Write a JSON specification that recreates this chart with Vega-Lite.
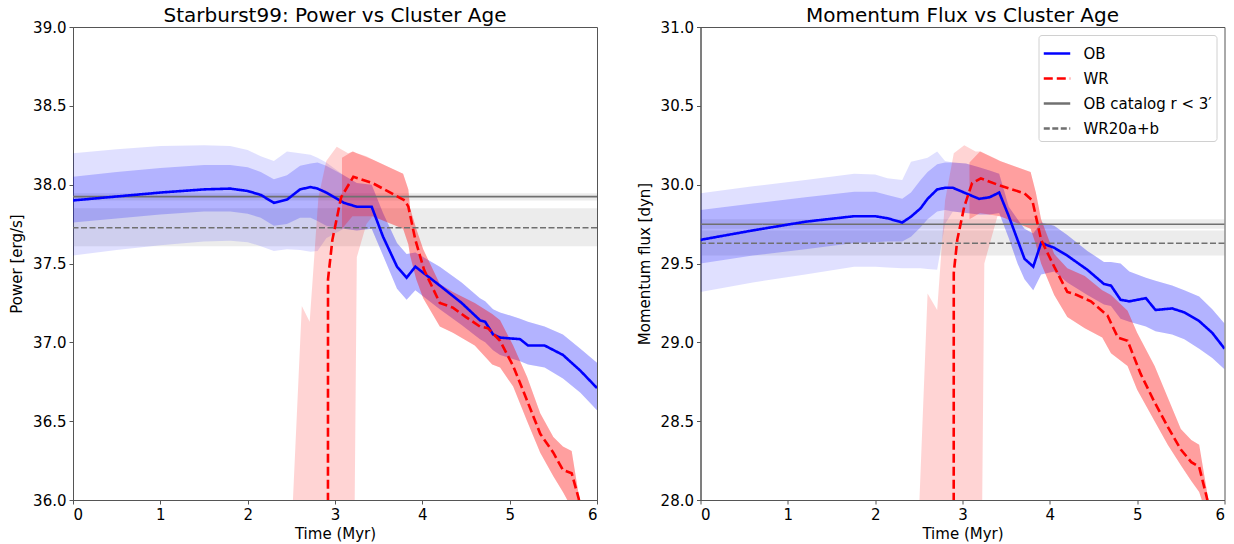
{
  "$schema": "https://vega.github.io/schema/vega-lite/v6.json",
  "padding": {"left": 9, "top": 5, "right": 5, "bottom": 0},
  "spacing": 37.5,
  "config": {
    "font": "DejaVu Sans",
    "view": {"stroke": "#555", "strokeWidth": 1},
    "axis": {"labelFontSize": 15, "titleFontSize": 15, "titleFontWeight": "normal", "labelColor": "black", "titleColor": "black", "tickColor": "#555", "domainColor": "#555", "tickSize": 4, "grid": false, "labelPadding": 3},
    "axisY": {"titlePadding": 8},
    "axisX": {"titlePadding": 4},
    "title": {"fontSize": 20, "fontWeight": "normal", "offset": -5.5, "color": "black"},
    "legend": {"labelFontSize": 15, "symbolType": "stroke", "symbolSize": 700, "symbolStrokeWidth": 2.5, "strokeColor": "#d0d0d0", "fillColor": "rgba(255,255,255,0.85)", "padding": 4, "cornerRadius": 3, "offset": 8, "rowPadding": 2, "labelOffset": 12, "labelColor": "black", "titlePadding": 0}
  },
  "datasets": {
    "p_ob": [
      {"t": 0.0, "v": 37.90, "lo": 37.76, "hi": 38.05, "lo2": 37.55, "hi2": 38.20},
      {"t": 0.5, "v": 37.925, "lo": 37.785, "hi": 38.08, "lo2": 37.585, "hi2": 38.225},
      {"t": 1.0, "v": 37.95, "lo": 37.81, "hi": 38.105, "lo2": 37.615, "hi2": 38.245},
      {"t": 1.5, "v": 37.97, "lo": 37.83, "hi": 38.125, "lo2": 37.64, "hi2": 38.25},
      {"t": 1.8, "v": 37.975, "lo": 37.83, "hi": 38.125, "lo2": 37.645, "hi2": 38.245},
      {"t": 2.0, "v": 37.96, "lo": 37.815, "hi": 38.11, "lo2": 37.635, "hi2": 38.22},
      {"t": 2.15, "v": 37.935, "lo": 37.79, "hi": 38.08, "lo2": 37.61, "hi2": 38.18},
      {"t": 2.3, "v": 37.885, "lo": 37.74, "hi": 38.035, "lo2": 37.58, "hi2": 38.15},
      {"t": 2.45, "v": 37.905, "lo": 37.75, "hi": 38.06, "lo2": 37.59, "hi2": 38.21},
      {"t": 2.6, "v": 37.97, "lo": 37.79, "hi": 38.12, "lo2": 37.585, "hi2": 38.20},
      {"t": 2.72, "v": 37.985, "lo": 37.79, "hi": 38.135, "lo2": 37.575, "hi2": 38.19},
      {"t": 2.8, "v": 37.975, "lo": 37.77, "hi": 38.14, "lo2": 37.58, "hi2": 38.17},
      {"t": 2.9, "v": 37.95, "lo": 37.74, "hi": 38.12, "lo2": 37.66, "hi2": 38.14},
      {"t": 3.1, "v": 37.885, "lo": 37.72, "hi": 38.06, "lo2": 37.72, "hi2": 38.06},
      {"t": 3.25, "v": 37.86, "lo": 37.71, "hi": 38.01, "lo2": 37.71, "hi2": 38.01},
      {"t": 3.42, "v": 37.86, "lo": 37.72, "hi": 38.00, "lo2": 37.72, "hi2": 38.00},
      {"t": 3.55, "v": 37.67, "lo": 37.55, "hi": 37.82, "lo2": 37.55, "hi2": 37.82},
      {"t": 3.71, "v": 37.48, "lo": 37.34, "hi": 37.63, "lo2": 37.34, "hi2": 37.63},
      {"t": 3.82, "v": 37.41, "lo": 37.27, "hi": 37.56, "lo2": 37.27, "hi2": 37.56},
      {"t": 3.92, "v": 37.48, "lo": 37.33, "hi": 37.57, "lo2": 37.33, "hi2": 37.57},
      {"t": 4.2, "v": 37.36, "lo": 37.21, "hi": 37.48, "lo2": 37.21, "hi2": 37.48},
      {"t": 4.45, "v": 37.25, "lo": 37.11, "hi": 37.38, "lo2": 37.11, "hi2": 37.38},
      {"t": 4.66, "v": 37.14, "lo": 37.02, "hi": 37.28, "lo2": 37.02, "hi2": 37.28},
      {"t": 4.72, "v": 37.13, "lo": 37.00, "hi": 37.26, "lo2": 37.00, "hi2": 37.26},
      {"t": 4.81, "v": 37.05, "lo": 36.95, "hi": 37.21, "lo2": 36.95, "hi2": 37.21},
      {"t": 4.89, "v": 37.03, "lo": 36.92, "hi": 37.19, "lo2": 36.92, "hi2": 37.19},
      {"t": 5.12, "v": 37.02, "lo": 36.88, "hi": 37.15, "lo2": 36.88, "hi2": 37.15},
      {"t": 5.21, "v": 36.98, "lo": 36.86, "hi": 37.13, "lo2": 36.86, "hi2": 37.13},
      {"t": 5.40, "v": 36.98, "lo": 36.84, "hi": 37.10, "lo2": 36.84, "hi2": 37.10},
      {"t": 5.61, "v": 36.92, "lo": 36.77, "hi": 37.05, "lo2": 36.77, "hi2": 37.05},
      {"t": 5.81, "v": 36.82, "lo": 36.68, "hi": 36.96, "lo2": 36.68, "hi2": 36.96},
      {"t": 6.0, "v": 36.71, "lo": 36.57, "hi": 36.87, "lo2": 36.57, "hi2": 36.87}
    ],
    "p_wr": [
      {"t": 2.919, "v": 35.0}, {"t": 2.92, "v": 37.40}, {"t": 2.97, "v": 37.65}, {"t": 3.07, "v": 37.92},
      {"t": 3.21, "v": 38.05}, {"t": 3.43, "v": 38.01}, {"t": 3.8, "v": 37.90}, {"t": 3.84, "v": 37.86},
      {"t": 3.92, "v": 37.65}, {"t": 4.02, "v": 37.46}, {"t": 4.2, "v": 37.25}, {"t": 4.35, "v": 37.22},
      {"t": 4.5, "v": 37.16}, {"t": 4.66, "v": 37.10}, {"t": 4.75, "v": 37.09}, {"t": 4.89, "v": 37.01},
      {"t": 5.04, "v": 36.85}, {"t": 5.2, "v": 36.63}, {"t": 5.35, "v": 36.42}, {"t": 5.5, "v": 36.30},
      {"t": 5.61, "v": 36.19}, {"t": 5.71, "v": 36.17}, {"t": 5.79, "v": 36.01}, {"t": 5.9, "v": 35.7}
    ],
    "p_wr1": [
      {"t": 3.08, "lo": 37.72, "hi": 38.17}, {"t": 3.2, "lo": 37.80, "hi": 38.21}, {"t": 3.43, "lo": 37.80, "hi": 38.16},
      {"t": 3.78, "lo": 37.72, "hi": 38.07}, {"t": 3.84, "lo": 37.62, "hi": 37.97}, {"t": 3.86, "lo": 37.55, "hi": 37.85},
      {"t": 3.93, "lo": 37.40, "hi": 37.72}, {"t": 4.01, "lo": 37.28, "hi": 37.59}, {"t": 4.2, "lo": 37.10, "hi": 37.37},
      {"t": 4.35, "lo": 37.06, "hi": 37.32}, {"t": 4.6, "lo": 36.98, "hi": 37.25}, {"t": 4.8, "lo": 36.86, "hi": 37.18},
      {"t": 4.89, "lo": 36.84, "hi": 37.14}, {"t": 5.04, "lo": 36.72, "hi": 36.98}, {"t": 5.2, "lo": 36.50, "hi": 36.78},
      {"t": 5.35, "lo": 36.30, "hi": 36.55}, {"t": 5.5, "lo": 36.15, "hi": 36.40}, {"t": 5.61, "lo": 36.05, "hi": 36.34},
      {"t": 5.71, "lo": 35.95, "hi": 36.31}, {"t": 5.8, "lo": 35.8, "hi": 36.0}, {"t": 5.9, "lo": 35.5, "hi": 35.7}
    ],
    "p_wr2": [
      {"t": 2.51, "lo": 35.0, "hi": 35.9}, {"t": 2.62, "lo": 35.0, "hi": 37.23}, {"t": 2.71, "lo": 35.0, "hi": 37.13},
      {"t": 2.81, "lo": 35.0, "hi": 37.92}, {"t": 2.9, "lo": 35.0, "hi": 38.15}, {"t": 3.02, "lo": 35.0, "hi": 38.24},
      {"t": 3.15, "lo": 35.0, "hi": 38.20}, {"t": 3.21, "lo": 35.0, "hi": 38.21}, {"t": 3.25, "lo": 37.54, "hi": 38.2},
      {"t": 3.36, "lo": 37.75, "hi": 38.18}, {"t": 3.43, "lo": 37.80, "hi": 38.16},
      {"t": 3.78, "lo": 37.72, "hi": 38.07}, {"t": 3.84, "lo": 37.62, "hi": 37.97}, {"t": 3.86, "lo": 37.55, "hi": 37.85},
      {"t": 3.93, "lo": 37.40, "hi": 37.72}, {"t": 4.01, "lo": 37.28, "hi": 37.59}, {"t": 4.2, "lo": 37.10, "hi": 37.37},
      {"t": 4.35, "lo": 37.06, "hi": 37.32}, {"t": 4.6, "lo": 36.98, "hi": 37.25}, {"t": 4.8, "lo": 36.86, "hi": 37.18},
      {"t": 4.89, "lo": 36.84, "hi": 37.14}, {"t": 5.04, "lo": 36.72, "hi": 36.98}, {"t": 5.2, "lo": 36.50, "hi": 36.78},
      {"t": 5.35, "lo": 36.30, "hi": 36.55}, {"t": 5.5, "lo": 36.15, "hi": 36.40}, {"t": 5.61, "lo": 36.05, "hi": 36.34},
      {"t": 5.71, "lo": 35.95, "hi": 36.31}, {"t": 5.8, "lo": 35.8, "hi": 36.0}, {"t": 5.9, "lo": 35.5, "hi": 35.7}
    ],
    "p_ref": [
      {"ref": "OB catalog r < 3′", "v": 37.924, "lo": 37.90, "hi": 37.945},
      {"ref": "WR20a+b", "v": 37.727, "lo": 37.61, "hi": 37.85}
    ],
    "m_ob": [
      {"t": 0.0, "v": 29.65, "lo": 29.50, "hi": 29.84, "lo2": 29.32, "hi2": 29.945},
      {"t": 0.6, "v": 29.71, "lo": 29.55, "hi": 29.88, "lo2": 29.38, "hi2": 29.99},
      {"t": 1.2, "v": 29.765, "lo": 29.59, "hi": 29.92, "lo2": 29.43, "hi2": 30.03},
      {"t": 1.76, "v": 29.80, "lo": 29.63, "hi": 29.955, "lo2": 29.48, "hi2": 30.07},
      {"t": 2.0, "v": 29.80, "lo": 29.635, "hi": 29.955, "lo2": 29.48, "hi2": 30.065},
      {"t": 2.14, "v": 29.787, "lo": 29.64, "hi": 29.935, "lo2": 29.475, "hi2": 30.04},
      {"t": 2.31, "v": 29.76, "lo": 29.64, "hi": 29.91, "lo2": 29.47, "hi2": 30.03},
      {"t": 2.41, "v": 29.797, "lo": 29.67, "hi": 29.95, "lo2": 29.47, "hi2": 30.145},
      {"t": 2.52, "v": 29.85, "lo": 29.73, "hi": 30.03, "lo2": 29.47, "hi2": 30.16},
      {"t": 2.60, "v": 29.91, "lo": 29.78, "hi": 30.08, "lo2": 29.465, "hi2": 30.17},
      {"t": 2.71, "v": 29.97, "lo": 29.83, "hi": 30.13, "lo2": 29.46, "hi2": 30.21},
      {"t": 2.8, "v": 29.98, "lo": 29.84, "hi": 30.14, "lo2": 29.75, "hi2": 30.15},
      {"t": 2.89, "v": 29.98, "lo": 29.83, "hi": 30.14, "lo2": 29.83, "hi2": 30.14},
      {"t": 3.04, "v": 29.945, "lo": 29.82, "hi": 30.135, "lo2": 29.82, "hi2": 30.135},
      {"t": 3.19, "v": 29.91, "lo": 29.81, "hi": 30.11, "lo2": 29.81, "hi2": 30.11},
      {"t": 3.31, "v": 29.92, "lo": 29.81, "hi": 30.09, "lo2": 29.81, "hi2": 30.09},
      {"t": 3.42, "v": 29.95, "lo": 29.82, "hi": 30.07, "lo2": 29.82, "hi2": 30.07},
      {"t": 3.53, "v": 29.80, "lo": 29.66, "hi": 29.86, "lo2": 29.66, "hi2": 29.86},
      {"t": 3.63, "v": 29.65, "lo": 29.50, "hi": 29.78, "lo2": 29.50, "hi2": 29.78},
      {"t": 3.71, "v": 29.53, "lo": 29.40, "hi": 29.72, "lo2": 29.40, "hi2": 29.72},
      {"t": 3.81, "v": 29.48, "lo": 29.33, "hi": 29.69, "lo2": 29.33, "hi2": 29.69},
      {"t": 3.90, "v": 29.63, "lo": 29.43, "hi": 29.76, "lo2": 29.43, "hi2": 29.76},
      {"t": 4.05, "v": 29.60, "lo": 29.45, "hi": 29.74, "lo2": 29.45, "hi2": 29.74},
      {"t": 4.20, "v": 29.55, "lo": 29.38, "hi": 29.68, "lo2": 29.38, "hi2": 29.68},
      {"t": 4.43, "v": 29.46, "lo": 29.30, "hi": 29.58, "lo2": 29.30, "hi2": 29.58},
      {"t": 4.62, "v": 29.37, "lo": 29.24, "hi": 29.51, "lo2": 29.24, "hi2": 29.51},
      {"t": 4.70, "v": 29.36, "lo": 29.23, "hi": 29.51, "lo2": 29.23, "hi2": 29.51},
      {"t": 4.81, "v": 29.27, "lo": 29.15, "hi": 29.50, "lo2": 29.15, "hi2": 29.50},
      {"t": 4.91, "v": 29.26, "lo": 29.13, "hi": 29.45, "lo2": 29.13, "hi2": 29.45},
      {"t": 5.10, "v": 29.28, "lo": 29.10, "hi": 29.41, "lo2": 29.10, "hi2": 29.41},
      {"t": 5.21, "v": 29.205, "lo": 29.07, "hi": 29.39, "lo2": 29.07, "hi2": 29.39},
      {"t": 5.40, "v": 29.215, "lo": 29.05, "hi": 29.36, "lo2": 29.05, "hi2": 29.36},
      {"t": 5.54, "v": 29.19, "lo": 29.02, "hi": 29.33, "lo2": 29.02, "hi2": 29.33},
      {"t": 5.71, "v": 29.135, "lo": 28.96, "hi": 29.29, "lo2": 28.96, "hi2": 29.29},
      {"t": 5.86, "v": 29.06, "lo": 28.90, "hi": 29.21, "lo2": 28.90, "hi2": 29.21},
      {"t": 6.0, "v": 28.96, "lo": 28.83, "hi": 29.12, "lo2": 28.83, "hi2": 29.12}
    ],
    "m_wr": [
      {"t": 2.899, "v": 27.0}, {"t": 2.90, "v": 29.44}, {"t": 2.94, "v": 29.65}, {"t": 3.02, "v": 29.86},
      {"t": 3.11, "v": 30.01}, {"t": 3.21, "v": 30.04}, {"t": 3.40, "v": 30.00}, {"t": 3.71, "v": 29.945},
      {"t": 3.80, "v": 29.90}, {"t": 3.90, "v": 29.65}, {"t": 4.05, "v": 29.48}, {"t": 4.20, "v": 29.32},
      {"t": 4.31, "v": 29.30}, {"t": 4.47, "v": 29.26}, {"t": 4.66, "v": 29.17}, {"t": 4.78, "v": 29.03},
      {"t": 4.89, "v": 29.01}, {"t": 5.04, "v": 28.80}, {"t": 5.19, "v": 28.63}, {"t": 5.35, "v": 28.465},
      {"t": 5.50, "v": 28.32}, {"t": 5.62, "v": 28.24}, {"t": 5.71, "v": 28.21}, {"t": 5.80, "v": 28.01}, {"t": 5.9, "v": 27.7}
    ],
    "m_wr1": [
      {"t": 3.08, "lo": 29.78, "hi": 30.14}, {"t": 3.2, "lo": 29.82, "hi": 30.21}, {"t": 3.43, "lo": 29.80, "hi": 30.15},
      {"t": 3.78, "lo": 29.72, "hi": 30.08}, {"t": 3.84, "lo": 29.62, "hi": 29.95}, {"t": 3.9, "lo": 29.50, "hi": 29.78},
      {"t": 4.05, "lo": 29.30, "hi": 29.56}, {"t": 4.2, "lo": 29.16, "hi": 29.47}, {"t": 4.4, "lo": 29.09, "hi": 29.42},
      {"t": 4.6, "lo": 29.03, "hi": 29.33}, {"t": 4.7, "lo": 28.93, "hi": 29.30}, {"t": 4.89, "lo": 28.85, "hi": 29.20},
      {"t": 5.0, "lo": 28.70, "hi": 29.06}, {"t": 5.2, "lo": 28.50, "hi": 28.85}, {"t": 5.35, "lo": 28.35, "hi": 28.65},
      {"t": 5.5, "lo": 28.22, "hi": 28.45}, {"t": 5.62, "lo": 28.12, "hi": 28.38}, {"t": 5.71, "lo": 28.05, "hi": 28.35},
      {"t": 5.8, "lo": 27.9, "hi": 28.05}, {"t": 5.9, "lo": 27.6, "hi": 27.75}
    ],
    "m_wr2": [
      {"t": 2.50, "lo": 27.0, "hi": 27.9}, {"t": 2.60, "lo": 27.0, "hi": 29.31}, {"t": 2.71, "lo": 27.0, "hi": 29.205},
      {"t": 2.80, "lo": 27.0, "hi": 29.9}, {"t": 2.90, "lo": 27.0, "hi": 30.20}, {"t": 3.02, "lo": 27.0, "hi": 30.25},
      {"t": 3.15, "lo": 27.0, "hi": 30.21}, {"t": 3.21, "lo": 27.0, "hi": 30.21}, {"t": 3.25, "lo": 29.50, "hi": 30.2},
      {"t": 3.40, "lo": 29.80, "hi": 30.16}, {"t": 3.43, "lo": 29.80, "hi": 30.15},
      {"t": 3.78, "lo": 29.72, "hi": 30.08}, {"t": 3.84, "lo": 29.62, "hi": 29.95}, {"t": 3.9, "lo": 29.50, "hi": 29.78},
      {"t": 4.05, "lo": 29.30, "hi": 29.56}, {"t": 4.2, "lo": 29.16, "hi": 29.47}, {"t": 4.4, "lo": 29.09, "hi": 29.42},
      {"t": 4.6, "lo": 29.03, "hi": 29.33}, {"t": 4.7, "lo": 28.93, "hi": 29.30}, {"t": 4.89, "lo": 28.85, "hi": 29.20},
      {"t": 5.0, "lo": 28.70, "hi": 29.06}, {"t": 5.2, "lo": 28.50, "hi": 28.85}, {"t": 5.35, "lo": 28.35, "hi": 28.65},
      {"t": 5.5, "lo": 28.22, "hi": 28.45}, {"t": 5.62, "lo": 28.12, "hi": 28.38}, {"t": 5.71, "lo": 28.05, "hi": 28.35},
      {"t": 5.8, "lo": 27.9, "hi": 28.05}, {"t": 5.9, "lo": 27.6, "hi": 27.75}
    ],
    "m_ref": [
      {"ref": "OB catalog r < 3′", "v": 29.749, "lo": 29.72, "hi": 29.78},
      {"ref": "WR20a+b", "v": 29.628, "lo": 29.55, "hi": 29.71}
    ]
  },
  "resolve": {
    "scale": {"stroke": "independent", "strokeDash": "independent"},
    "legend": {"stroke": "independent", "strokeDash": "independent"}
  },
  "hconcat": [
    {
      "width": 524, "height": 473,
      "title": "Starburst99: Power vs Cluster Age",
      "layer": [
        {"data": {"name": "p_ref"}, "mark": {"type": "rect", "color": "gray", "opacity": 0.15},
         "encoding": {"y": {"field": "lo", "type": "quantitative", "scale": {"domain": [36, 39], "nice": false, "zero": false}, "axis": {"title": "Power [erg/s]", "values": [36, 36.5, 37, 37.5, 38, 38.5, 39], "format": ".1f"}}, "y2": {"field": "hi"}}},
        {"data": {"name": "p_ob"}, "mark": {"type": "area", "color": "#0000ff", "opacity": 0.12, "clip": true},
         "encoding": {"x": {"field": "t", "type": "quantitative", "scale": {"domain": [0, 6], "nice": false, "zero": false}, "axis": {"title": "Time (Myr)", "values": [0, 1, 2, 3, 4, 5, 6], "format": "d"}},
                      "y": {"field": "lo2", "type": "quantitative", "scale": {"domain": [36, 39], "nice": false, "zero": false}, "axis": {"title": "Power [erg/s]", "values": [36, 36.5, 37, 37.5, 38, 38.5, 39], "format": ".1f"}}, "y2": {"field": "hi2"}}},
        {"data": {"name": "p_ob"}, "mark": {"type": "area", "color": "#0000ff", "opacity": 0.2, "clip": true},
         "encoding": {"x": {"field": "t", "type": "quantitative"}, "y": {"field": "lo", "type": "quantitative"}, "y2": {"field": "hi"}}},
        {"data": {"name": "p_wr2"}, "mark": {"type": "area", "color": "#ff0000", "opacity": 0.17, "clip": true},
         "encoding": {"x": {"field": "t", "type": "quantitative"}, "y": {"field": "lo", "type": "quantitative"}, "y2": {"field": "hi"}}},
        {"data": {"name": "p_wr1"}, "mark": {"type": "area", "color": "#ff0000", "opacity": 0.25, "clip": true},
         "encoding": {"x": {"field": "t", "type": "quantitative"}, "y": {"field": "lo", "type": "quantitative"}, "y2": {"field": "hi"}}},
        {"data": {"name": "p_ref"}, "mark": {"type": "rule", "strokeWidth": 1.6},
         "encoding": {"y": {"field": "v", "type": "quantitative"},
                      "stroke": {"field": "ref", "type": "nominal", "scale": {"domain": ["OB", "WR", "OB catalog r < 3′", "WR20a+b"], "range": ["#0000ff", "#ff0000", "#707070", "#707070"]}, "legend": null},
                      "strokeDash": {"field": "ref", "type": "nominal", "scale": {"domain": ["OB", "WR", "OB catalog r < 3′", "WR20a+b"], "range": [[1, 0], [9, 4], [1, 0], [6, 2.5]]}, "legend": null}}},
        {"data": {"name": "p_ob"}, "mark": {"type": "line", "strokeWidth": 2.6, "clip": true},
         "encoding": {"x": {"field": "t", "type": "quantitative"}, "y": {"field": "v", "type": "quantitative"},
                      "stroke": {"datum": "OB", "type": "nominal", "legend": null}, "strokeDash": {"datum": "OB", "type": "nominal", "legend": null}}},
        {"data": {"name": "p_wr"}, "mark": {"type": "line", "strokeWidth": 2.6, "clip": true},
         "encoding": {"x": {"field": "t", "type": "quantitative"}, "y": {"field": "v", "type": "quantitative"},
                      "stroke": {"datum": "WR", "type": "nominal", "legend": null}, "strokeDash": {"datum": "WR", "type": "nominal", "legend": null}}}
      ]
    },
    {
      "width": 524, "height": 473,
      "title": "Momentum Flux vs Cluster Age",
      "layer": [
        {"data": {"name": "m_ref"}, "mark": {"type": "rect", "color": "gray", "opacity": 0.15},
         "encoding": {"y": {"field": "lo", "type": "quantitative", "scale": {"domain": [28, 31], "nice": false, "zero": false}, "axis": {"title": "Momentum flux [dyn]", "values": [28, 28.5, 29, 29.5, 30, 30.5, 31], "format": ".1f"}}, "y2": {"field": "hi"}}},
        {"data": {"name": "m_ob"}, "mark": {"type": "area", "color": "#0000ff", "opacity": 0.12, "clip": true},
         "encoding": {"x": {"field": "t", "type": "quantitative", "scale": {"domain": [0, 6], "nice": false, "zero": false}, "axis": {"title": "Time (Myr)", "values": [0, 1, 2, 3, 4, 5, 6], "format": "d"}},
                      "y": {"field": "lo2", "type": "quantitative", "scale": {"domain": [28, 31], "nice": false, "zero": false}, "axis": {"title": "Momentum flux [dyn]", "values": [28, 28.5, 29, 29.5, 30, 30.5, 31], "format": ".1f"}}, "y2": {"field": "hi2"}}},
        {"data": {"name": "m_ob"}, "mark": {"type": "area", "color": "#0000ff", "opacity": 0.2, "clip": true},
         "encoding": {"x": {"field": "t", "type": "quantitative"}, "y": {"field": "lo", "type": "quantitative"}, "y2": {"field": "hi"}}},
        {"data": {"name": "m_wr2"}, "mark": {"type": "area", "color": "#ff0000", "opacity": 0.17, "clip": true},
         "encoding": {"x": {"field": "t", "type": "quantitative"}, "y": {"field": "lo", "type": "quantitative"}, "y2": {"field": "hi"}}},
        {"data": {"name": "m_wr1"}, "mark": {"type": "area", "color": "#ff0000", "opacity": 0.25, "clip": true},
         "encoding": {"x": {"field": "t", "type": "quantitative"}, "y": {"field": "lo", "type": "quantitative"}, "y2": {"field": "hi"}}},
        {"data": {"name": "m_ref"}, "mark": {"type": "rule", "strokeWidth": 1.6},
         "encoding": {"y": {"field": "v", "type": "quantitative"},
                      "stroke": {"field": "ref", "type": "nominal", "scale": {"domain": ["OB", "WR", "OB catalog r < 3′", "WR20a+b"], "range": ["#0000ff", "#ff0000", "#707070", "#707070"]}, "legend": {"title": null, "orient": "top-right"}},
                      "strokeDash": {"field": "ref", "type": "nominal", "scale": {"domain": ["OB", "WR", "OB catalog r < 3′", "WR20a+b"], "range": [[1, 0], [9, 4], [1, 0], [6, 2.5]]}, "legend": {"title": null, "orient": "top-right"}}}},
        {"data": {"name": "m_ob"}, "mark": {"type": "line", "strokeWidth": 2.6, "clip": true},
         "encoding": {"x": {"field": "t", "type": "quantitative"}, "y": {"field": "v", "type": "quantitative"},
                      "stroke": {"datum": "OB", "type": "nominal", "legend": {"title": null, "orient": "top-right"}}, "strokeDash": {"datum": "OB", "type": "nominal", "legend": {"title": null, "orient": "top-right"}}}},
        {"data": {"name": "m_wr"}, "mark": {"type": "line", "strokeWidth": 2.6, "clip": true},
         "encoding": {"x": {"field": "t", "type": "quantitative"}, "y": {"field": "v", "type": "quantitative"},
                      "stroke": {"datum": "WR", "type": "nominal", "legend": {"title": null, "orient": "top-right"}}, "strokeDash": {"datum": "WR", "type": "nominal", "legend": {"title": null, "orient": "top-right"}}}}
      ]
    }
  ]
}
